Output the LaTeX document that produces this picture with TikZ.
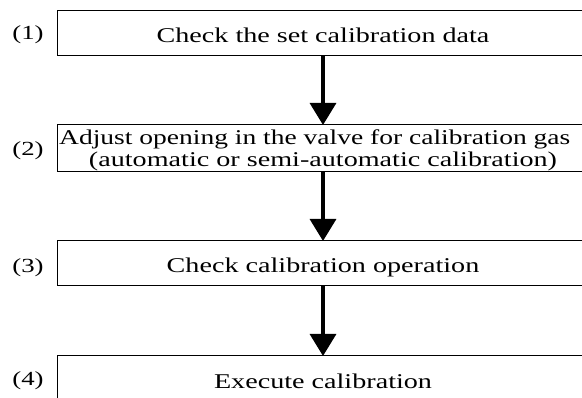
\documentclass[tikz,border=0pt]{standalone}
\usepackage{fontspec}
\setmainfont{Liberation Serif}
\newfontfamily\widefont[FakeStretch=1.34]{Liberation Serif}
\newfontfamily\midfont[FakeStretch=1.31]{Liberation Serif}
\usetikzlibrary{arrows.meta}
\begin{document}
\begin{tikzpicture}[x=1pt,y=-1pt,
  box/.style={draw,line width=1pt,inner sep=0pt},
  txt/.style={font=\widefont\fontsize{21}{22}\selectfont,inner sep=0pt,align=center},
  txtb/.style={font=\midfont\fontsize{21}{22}\selectfont,inner sep=0pt},
  num/.style={font=\widefont\fontsize{20}{22}\selectfont,inner sep=0pt},
  flow/.style={line width=3.2pt,-{Triangle[width=26pt,length=22pt]}}]
\useasboundingbox (0,0) rectangle (582,398);
\clip (0,0) rectangle (582,398);
\fill[white] (0,0) rectangle (582,398);
\draw[box] (57,11) rectangle (620,56);
\draw[box] (57,125) rectangle (620,172);
\draw[box] (57,241) rectangle (620,286);
\draw[box] (57,356) rectangle (620,420);
\coordinate (b1s) at (323,56);
\coordinate (b2n) at (323,125);
\coordinate (b2s) at (323,172);
\coordinate (b3n) at (323,241);
\coordinate (b3s) at (323,286);
\coordinate (b4n) at (323,356);
\node[txt] (t1) at (323,35) {Check the set calibration data};
\node[txtb,anchor=west] (t2a) at (59,139) {Adjust opening in the valve for calibration gas};
\node[txt] (t2b) at (323,161) {(automatic or semi-automatic calibration)};
\node[txt] (t3) at (323,267) {Check calibration operation};
\node[txt] (t4) at (323,381) {Execute calibration};
\node[num] (n1) at (28,35) {(1)};
\node[num] (n2) at (28,151) {(2)};
\node[num] (n3) at (28,268) {(3)};
\node[num] (n4) at (28,381) {(4)};
\draw[flow] (b1s) -- (b2n);
\draw[flow] (b2s) -- (b3n);
\draw[flow] (b3s) -- (b4n);
\end{tikzpicture}
\end{document}
